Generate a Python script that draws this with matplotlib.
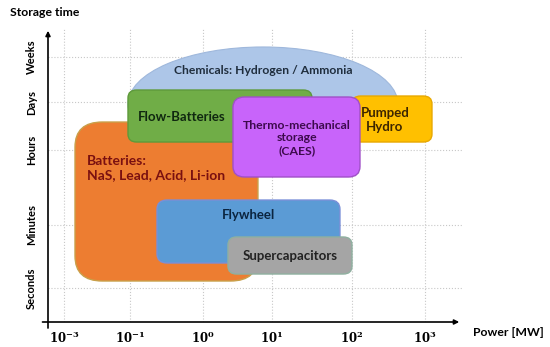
import matplotlib
matplotlib.use("Agg")
import matplotlib.pyplot as plt
from matplotlib.patches import FancyBboxPatch, Ellipse, Rectangle

plt.rcParams['font.family'] = ['Lato', 'DejaVu Sans']
plt.rcParams['mathtext.fontset'] = 'dejavuserif'

# axis scale: x in "decade slots", y in "time-scale slots" (schematic, not true log)
power_ticks = [0, 0.917, 1.93, 2.89, 4.0, 5.01]
power_labels = [r'$\mathbf{10^{-3}}$', r'$\mathbf{10^{-1}}$', r'$\mathbf{10^{0}}$',
                r'$\mathbf{10^{1}}$', r'$\mathbf{10^{2}}$', r'$\mathbf{10^{3}}$']
time_ticks = [0.515, 1.47, 2.61, 3.33, 4.02]
time_labels = ['Seconds', 'Minutes', 'Hours', 'Days', 'Weeks']

# technology boxes (power range, storage-time range)
techs = ['Flow-Batteries', 'Batteries:\nNaS, Lead, Acid, Li-ion', 'Flywheel',
         'Supercapacitors', 'Pumped\nHydro', 'Thermo-mechanical\nstorage\n(CAES)']
p_lo = [0.889, 0.153, 1.292, 2.278, 4.0, 2.347]
p_hi = [3.444, 2.694, 3.833, 4.0, 5.111, 4.111]
t_lo = [2.727, 0.621, 0.894, 0.727, 2.727, 2.197]
t_hi = [3.515, 3.03, 1.848, 1.288, 3.424, 3.409]
colors = ['#70ad47', '#ed7d31', '#5b9bd5', '#a5a5a5', '#ffc000', '#c864fa']
edges = ['#5e9a3a', '#c9a04a', '#7a8fd8', '#8fb0a0', '#e8a800', '#a050c8']
txt_colors = ['#102810', '#7a1010', '#0b2540', '#222222', '#3d2600', '#3d0a4d']
corner = [0.12, 0.38, 0.14, 0.12, 0.12, 0.16]
zorders = [3, 2, 4, 5, 3.5, 4]

# label anchors and sizes
label_x = [1.639, 0.319, 2.556, 3.139, 4.458, 3.236]
label_y = [3.106, 2.33, 1.621, 1.0, 3.068, 2.788]
label_ha = ['center', 'left', 'center', 'center', 'center', 'center']
label_fs = [9.5, 10, 9.5, 9.5, 9.5, 8.8]

# chemicals: dome shape
chem_name = 'Chemicals: Hydrogen / Ammonia'
chem_p = (0.889, 4.639)
chem_t_top = 4.167
chem_t_mid = 3.3

fig = plt.figure(figsize=(5.5, 3.47), dpi=100)
ax = fig.add_axes([48/550, 25/347, 414/550, 294/347])
ax.set_xlim(-0.222, 5.528)
ax.set_ylim(0, 4.4545)

cx = (chem_p[0] + chem_p[1]) / 2
ell = Ellipse((cx, chem_t_mid), chem_p[1] - chem_p[0], 2 * (chem_t_top - chem_t_mid),
              facecolor='#adc6e8', edgecolor='#9fb8dc', lw=0.8, zorder=1)
ax.add_patch(ell)
clip = Rectangle((chem_p[0] - 0.5, 2.9), 6, 3, transform=ax.transData)
ell.set_clip_path(clip)
ax.text(cx, 3.803, chem_name, ha='center', va='center', fontsize=8.7,
        fontweight='bold', color='#1f2d3d', zorder=10)

for i, name in enumerate(techs):
    box = FancyBboxPatch((p_lo[i], t_lo[i]), p_hi[i] - p_lo[i], t_hi[i] - t_lo[i],
                         boxstyle='round,pad=0,rounding_size=%g' % corner[i],
                         facecolor=colors[i], edgecolor=edges[i], lw=1.0,
                         zorder=zorders[i])
    ax.add_patch(box)
    ax.text(label_x[i], label_y[i], name, ha=label_ha[i], va='center',
            multialignment=label_ha[i], fontsize=label_fs[i],
            fontweight='bold', color=txt_colors[i], zorder=10, linespacing=1.2)

ax.set_xticks(power_ticks)
ax.set_xticklabels(power_labels, fontsize=8.5)
ax.set_yticks(time_ticks)
ax.set_yticklabels(time_labels, rotation=90, va='center', fontsize=8,
                   fontweight='bold')
ax.tick_params(length=0)
ax.tick_params(axis='x', pad=5)
ax.tick_params(axis='y', pad=8)
ax.grid(True, ls=':', color='#c8c8c8', lw=0.8)
ax.set_axisbelow(True)
for s in ax.spines.values():
    s.set_visible(False)

ax.annotate('', xy=(1.0, 0), xytext=(-0.02, 0), xycoords='axes fraction',
            arrowprops=dict(arrowstyle='-|>', lw=1.2, color='black', mutation_scale=7))
ax.annotate('', xy=(0, 1.0), xytext=(0, -0.03), xycoords='axes fraction',
            arrowprops=dict(arrowstyle='-|>', lw=1.2, color='black', mutation_scale=7))

fig.text(10/550, 1 - 13/347, 'Storage time', ha='left', va='center',
         fontsize=8.8, fontweight='bold')
fig.text(473/550, 1 - 333/347, 'Power [MW]', ha='left', va='center',
         fontsize=8.8, fontweight='bold')

fig.savefig('out.png', dpi=100)
